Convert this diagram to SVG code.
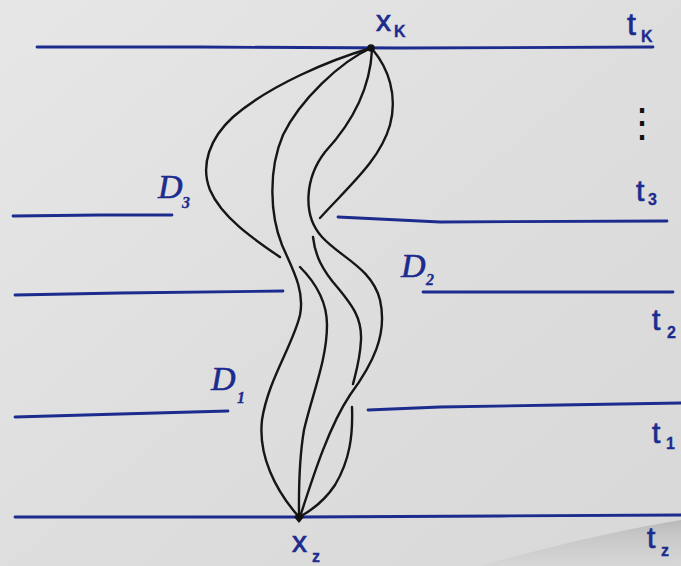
<svg xmlns="http://www.w3.org/2000/svg" width="681" height="566" viewBox="0 0 681 566">
  <defs>
    <linearGradient id="bg" x1="0" y1="0" x2="1" y2="1">
      <stop offset="0" stop-color="#e7e7e7"/>
      <stop offset="0.5" stop-color="#dedede"/>
      <stop offset="1" stop-color="#d8d8d8"/>
    </linearGradient>
    <linearGradient id="curl" x1="0" y1="0" x2="0.08" y2="1">
      <stop offset="0" stop-color="#b4b4b4"/>
      <stop offset="0.35" stop-color="#c6c6c6"/>
      <stop offset="1" stop-color="#d6d6d6"/>
    </linearGradient>
    <style>
      .time { fill: none; stroke: #1c2b8e; stroke-width: 2.8; stroke-linecap: round; stroke-linejoin: round; }
      .path { fill: none; stroke: #161616; stroke-width: 2.4; stroke-linecap: round; stroke-linejoin: round; }
      .lbl { fill: #1c2b8e; stroke: #1c2b8e; stroke-width: 0.7; font-family: "Liberation Sans", "DejaVu Sans", sans-serif; font-size: 30px; }
      .sub { font-size: 16px; font-weight: bold; stroke-width: 0.3; }
      .dom { fill: #1c2b8e; stroke: #1c2b8e; stroke-width: 0.6; font-family: "Liberation Serif", "DejaVu Serif", serif; font-style: italic; font-size: 34px; }
      .dots { fill: #111111; font-family: "Liberation Serif", "DejaVu Serif", serif; font-size: 40px; }
      .pt { fill: #111111; }
    </style>
  </defs>

  <rect x="0" y="0" width="681" height="566" fill="url(#bg)"/>
  <path d="M480,566 Q590,535 681,520 L681,566 Z" fill="url(#curl)"/>

  <g id="time-lines">
    <polyline class="time" points="37,47 200,47 400,48 653,47"/>
    <polyline class="time" points="13,216 100,215 172,215"/>
    <polyline class="time" points="338,217 440,222 667,221"/>
    <polyline class="time" points="15,295 120,293 283,291"/>
    <polyline class="time" points="423,292 560,292 673,292"/>
    <polyline class="time" points="15,417 120,414 228,411"/>
    <polyline class="time" points="368,410 440,407 560,405 681,403"/>
    <polyline class="time" points="15,517 300,517 500,516 681,515"/>
  </g>

  <g id="connectors">
    <path class="path" d="M371,48 C340,62 300,100 283,135 C268,170 270,215 282,245 C292,268 305,290 300,315 C293,345 268,380 262,420 C258,455 275,490 299,517"/>
    <path class="path" d="M372,50 C370,90 350,125 325,152 C305,178 302,215 322,237 C340,257 372,268 380,300 C388,335 372,365 350,395 C330,425 315,470 300,517"/>
    <path class="path" d="M371,48 C330,60 270,85 233,117 C210,138 200,165 210,190 C222,218 255,240 280,257"/>
    <path class="path" d="M300,267 C315,282 327,300 327,325 C327,360 312,395 304,430 C298,465 299,495 299,517"/>
    <path class="path" d="M373,50 C388,68 398,95 390,125 C380,160 350,185 320,218"/>
    <path class="path" d="M313,237 C315,255 322,270 338,288 C352,305 362,318 361,340 C360,360 356,372 353,384"/>
    <path class="path" d="M352,407 C353,435 350,460 335,485 C325,500 312,510 301,516"/>
  </g>

  <g id="node-xK">
    <circle class="pt" cx="371" cy="48" r="3.8"/>
    <text class="lbl" x="376" y="31">x<tspan class="sub" x="394" y="37">K</tspan></text>
  </g>
  <g id="node-xz">
    <path class="pt" d="M299,512 L304,517 L299,523 L294,517 Z"/>
    <text class="lbl" x="292" y="552">x<tspan class="sub" x="312" y="562">z</tspan></text>
  </g>

  <g id="labels-t">
    <text class="lbl" x="627" y="35" style="font-size:32px">t<tspan class="sub" x="641" y="42">K</tspan></text>
    <text class="dots" x="622" y="136">⋮</text>
    <text class="lbl" x="636" y="201">t<tspan class="sub" x="648" y="205">3</tspan></text>
    <text class="lbl" x="652" y="330">t<tspan class="sub" x="667" y="338">2</tspan></text>
    <text class="lbl" x="652" y="443">t<tspan class="sub" x="666" y="449">1</tspan></text>
    <text class="lbl" x="647" y="548">t<tspan class="sub" x="661" y="556">z</tspan></text>
  </g>

  <g id="labels-D">
    <text class="dom" x="158" y="198">D<tspan class="sub" x="182" y="208">3</tspan></text>
    <text class="dom" x="401" y="277">D<tspan class="sub" x="426" y="285">2</tspan></text>
    <text class="dom" x="211" y="390">D<tspan class="sub" x="237" y="403">1</tspan></text>
  </g>
</svg>
